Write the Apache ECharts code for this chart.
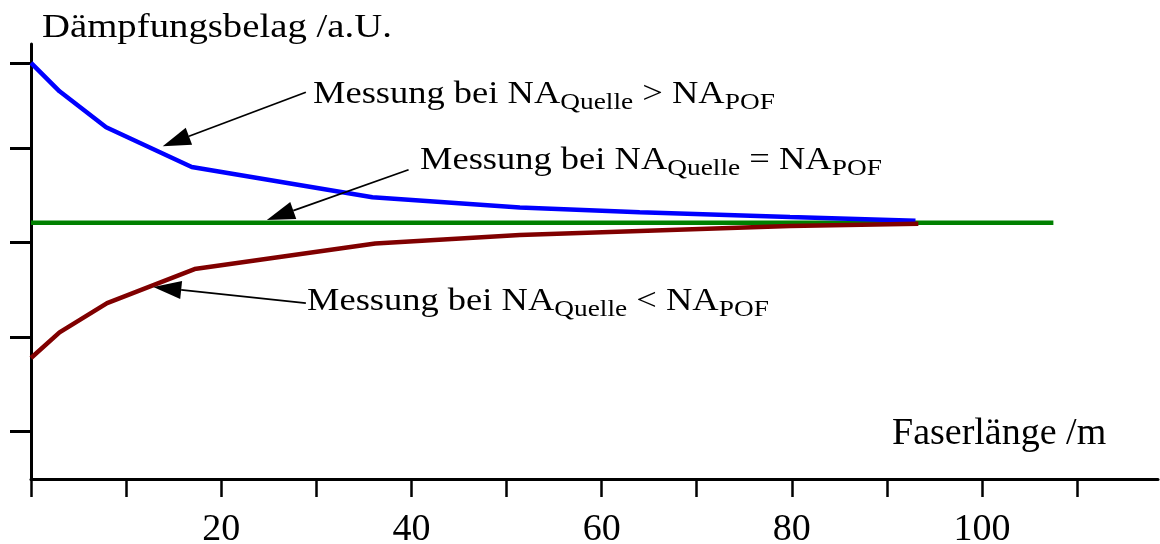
<!DOCTYPE html>
<html>
<head>
<meta charset="utf-8">
<script src="https://cdn.jsdelivr.net/npm/echarts@6/dist/echarts.min.js"></script>
<style>
html,body{margin:0;padding:0;background:#fff;}
#chart{width:1160px;height:544px;}
</style>
</head>
<body>
<div id="chart"></div>
<script>
// ---- data ----
const xBlue = [0, 3.0, 7.9, 16.9, 35.9, 51.4, 64.0, 79.8, 93.0];
const yBlue = [4.40, 4.10, 3.72, 3.30, 2.98, 2.87, 2.82, 2.77, 2.73];
const xRed = [0, 3.0, 8.0, 17.2, 36.2, 51.4, 79.8, 93.3];
const yRed = [1.28, 1.55, 1.86, 2.22, 2.49, 2.58, 2.675, 2.70];
const xGreen = [0, 107.5];
const yGreen = [2.71, 2.71];
const xTickValues = [0, 10, 20, 30, 40, 50, 60, 70, 80, 90, 100, 110];
const xLabelValues = [20, 40, 60, 80, 100];
const yTickValues = [0.5, 1.5, 2.5, 3.5, 4.4];
// annotation arrows (from text to curve), in data units
const arrowFrom = [[28.9, 4.09], [39.7, 3.27], [28.9, 1.86]];
const arrowTo = [[13.85, 3.52], [24.8, 2.74], [12.86, 2.03]];
const yTitle = 'Dämpfungsbelag /a.U.';
const xTitle = 'Faserlänge /m';
const labelGreater = '{m|Messung bei NA}{s|Quelle}{m| > NA}{s|POF}';
const labelEqual = '{m|Messung bei NA}{s|Quelle}{m| = NA}{s|POF}';
const labelLess = '{m|Messung bei NA}{s|Quelle}{m| < NA}{s|POF}';

const FONT = '"Liberation Serif", "Times New Roman", serif';
const zip = (xs, ys) => xs.map((x, i) => [x, ys[i]]);
const arrowData = arrowFrom.map((a, i) => [a[0], a[1], arrowTo[i][0], arrowTo[i][1]]);

const richStyle = {
  m: { fontSize: 32, fontFamily: FONT, fill: '#000', verticalAlign: 'bottom', padding: [0, 0, 4, 0] },
  s: { fontSize: 24, fontFamily: FONT, fill: '#000', verticalAlign: 'bottom' }
};
function annot(x, y, text) {
  return {
    type: 'text', x: x, y: y, scaleX: 1.14, z: 100,
    style: { text: text, rich: richStyle, fontFamily: FONT, fontSize: 32, fill: '#000', align: 'left', verticalAlign: 'top' }
  };
}

const chart = echarts.init(document.getElementById('chart'), null, { renderer: 'canvas' });
chart.setOption({
  animation: false,
  backgroundColor: '#fff',
  grid: { left: 31, right: 2, top: 44, bottom: 65, containLabel: false, outerBoundsMode: 'none' },
  xAxis: {
    type: 'value', min: 0, max: 118.5, interval: 10,
    axisLine: { show: true, onZero: false, lineStyle: { color: '#000', width: 3 } },
    axisTick: { show: true, inside: false, length: 18, customValues: xTickValues, lineStyle: { color: '#000', width: 2.5 } },
    axisLabel: { show: true, customValues: xLabelValues, margin: 32, fontSize: 38, fontFamily: FONT, color: '#000' },
    splitLine: { show: false }
  },
  yAxis: {
    type: 'value', min: 0, max: 4.6,
    axisLine: { show: true, onZero: false, lineStyle: { color: '#000', width: 3 } },
    axisTick: { show: true, inside: false, length: 21, customValues: yTickValues, lineStyle: { color: '#000', width: 3 } },
    axisLabel: { show: false },
    splitLine: { show: false }
  },
  series: [
    { name: 'gleich', type: 'line', data: zip(xGreen, yGreen), symbol: 'none', z: 2,
      lineStyle: { color: '#008000', width: 4.5 } },
    { name: 'größer', type: 'line', data: zip(xBlue, yBlue), symbol: 'none', z: 3,
      lineStyle: { color: '#0000ff', width: 4.5 } },
    { name: 'kleiner', type: 'line', data: zip(xRed, yRed), symbol: 'none', z: 4,
      lineStyle: { color: '#800000', width: 4.5 } },
    { name: 'Pfeile', type: 'custom', z: 10, clip: false, data: arrowData,
      encode: { x: [0, 2], y: [1, 3] },
      renderItem: function (params, api) {
        const p1 = api.coord([api.value(0), api.value(1)]);
        const p2 = api.coord([api.value(2), api.value(3)]);
        const dx = p2[0] - p1[0], dy = p2[1] - p1[1];
        const len = Math.sqrt(dx * dx + dy * dy);
        const ux = dx / len, uy = dy / len;
        const L = 28, W = 9;
        const bx = p2[0] - ux * L, by = p2[1] - uy * L;
        return {
          type: 'group',
          children: [
            { type: 'line', shape: { x1: p1[0], y1: p1[1], x2: bx, y2: by },
              style: { stroke: '#000', lineWidth: 1.8 } },
            { type: 'polygon', shape: { points: [[p2[0], p2[1]], [bx - uy * W, by + ux * W], [bx + uy * W, by - ux * W]] },
              style: { fill: '#000' } }
          ]
        };
      }
    }
  ],
  graphic: [
    { type: 'text', x: 42, y: 11.5, scaleX: 1.14, z: 100,
      style: { text: yTitle, fontSize: 34, lineHeight: 34, fontFamily: FONT, fill: '#000', align: 'left', verticalAlign: 'top' } },
    { type: 'text', x: 892, y: 415, z: 100,
      style: { text: xTitle, fontSize: 38, lineHeight: 38, fontFamily: FONT, fill: '#000', align: 'left', verticalAlign: 'top' } },
    annot(313, 79, labelGreater),
    annot(420, 145, labelEqual),
    annot(307, 286, labelLess)
  ]
});
</script>
</body>
</html>
